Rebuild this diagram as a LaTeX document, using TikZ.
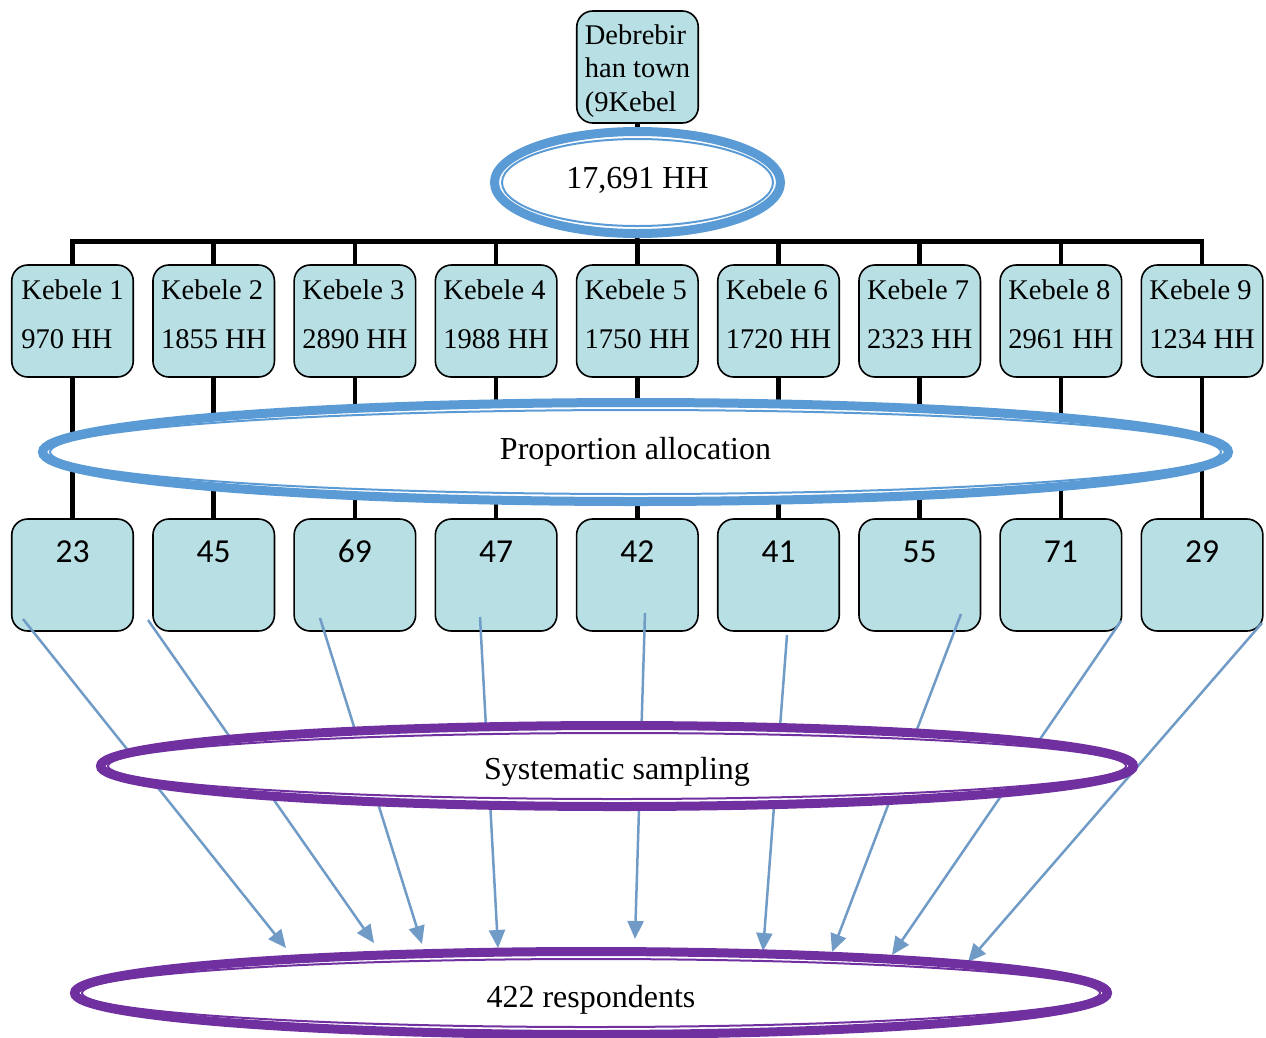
\documentclass[tikz,border=0pt]{standalone}
\usepackage{fontspec}
\setmainfont{Liberation Serif}
\newfontfamily\numfont{Carlito}
\usetikzlibrary{arrows.meta,shapes.geometric}
\definecolor{boxfill}{HTML}{B8DFE3}
\definecolor{ellblue}{HTML}{5B9BD5}
\definecolor{ellpurple}{HTML}{7030A0}
\definecolor{arrowblue}{HTML}{6F9BC6}
\pgfdeclarelayer{back}
\pgfdeclarelayer{arrowlayer}
\pgfdeclarelayer{front}
\pgfsetlayers{back,main,arrowlayer,front}
\begin{document}
\begin{tikzpicture}[x=1pt,y=-1pt,
  box/.style={draw=black, line width=1.6pt, fill=boxfill, rounded corners=16pt,
    minimum width=121.5pt, minimum height=112pt, inner sep=0pt},
  kebbox/.style={box, align=left, font=\fontsize{28.5}{49}\selectfont},
  topbox/.style={box, align=left, font=\fontsize{28.5}{33.5}\selectfont},
  numbox/.style={box, font=\numfont\fontsize{33.5}{40}\selectfont, text height=22pt, text depth=48pt},
  conn/.style={line width=4.7pt, black},
  bigell/.style={ellipse, draw, line width=9pt, fill=white, inner sep=0pt,
    font=\fontsize{32}{38}\selectfont, text height=30pt},
  thinell/.style={line width=2pt},
  flow/.style={line width=2.5pt, arrowblue, -{Triangle[length=18pt,width=16pt]}},
]
\useasboundingbox (0,0) rectangle (1266,1037);

% top box and total
\node[topbox] (top) at (637.5,67) {\rule{0pt}{28pt}Debrebir\\han town\\(9Kebel};
\node[bigell, draw=ellblue, minimum width=286pt, minimum height=102pt, text depth=19pt]
  (tot) at (637.5,182.5) {17,691 HH};
\draw[ellblue, thinell] (tot.center) ellipse [x radius=135.5, y radius=43.5];

% kebele boxes
\foreach \i/\hh in {1/970,2/1855,3/2890,4/1988,5/1750,6/1720,7/2323,8/2961,9/1234}{
  \pgfmathsetmacro{\xx}{72.5+141.2*(\i-1)}
  \node[kebbox] (k\i) at (\xx,321) {Kebele \i\\\hh{} HH\rule[-14.5pt]{0pt}{14.5pt}};
}
% sample boxes
\foreach \i/\nn in {1/23,2/45,3/69,4/47,5/42,6/41,7/55,8/71,9/29}{
  \pgfmathsetmacro{\xx}{72.5+141.2*(\i-1)}
  \node[numbox] (n\i) at (\xx,575) {\nn};
}

% proportion allocation
\node[bigell, draw=ellblue, minimum width=1186pt, minimum height=99pt, text depth=16pt]
  (prop) at (635.5,452) {Proportion allocation};
\draw[ellblue, thinell] (prop.center) ellipse [x radius=585.5, y radius=42];

% black connectors
\coordinate (bar) at (637.3,241.5);
\begin{pgfonlayer}{back}
  \draw[conn] (top.south) -- (bar);
  \foreach \i in {1,...,9}{
    \draw[conn] (k\i.north) |- (bar);
    \draw[conn] (k\i.south) -- (n\i.north);
  }
\end{pgfonlayer}

% lower ellipses
\begin{pgfonlayer}{front}
  \node[bigell, draw=ellpurple, minimum width=1033pt, minimum height=81pt, text depth=4pt]
    (sys) at (617,766) {Systematic sampling};
  \draw[ellpurple, thinell] (sys.center) ellipse [x radius=509, y radius=33];
  \node[bigell, draw=ellpurple, minimum width=1033pt, minimum height=83pt, text depth=2pt]
    (resp) at (591,993) {422 respondents};
  \draw[ellpurple, thinell] (resp.center) ellipse [x radius=509, y radius=34];
\end{pgfonlayer}

% arrows
\coordinate (s1) at (23,619);   \coordinate (t1) at (286,948);
\coordinate (s2) at (148,620);  \coordinate (t2) at (374,943);
\coordinate (s3) at (320,618);  \coordinate (t3) at (422,944);
\coordinate (s4) at (480,617);  \coordinate (t4) at (498,948);
\coordinate (s5) at (645,613);  \coordinate (t5) at (635,939);
\coordinate (s6) at (787,635);  \coordinate (t6) at (763,951);
\coordinate (s7) at (961,614);  \coordinate (t7) at (832,952);
\coordinate (s8) at (1121,621); \coordinate (t8) at (892,955);
\coordinate (s9) at (1262,623); \coordinate (t9) at (968,962);
\begin{pgfonlayer}{arrowlayer}
  \foreach \i in {1,...,9}{
    \draw[flow] (s\i) -- (t\i);
  }
\end{pgfonlayer}
\end{tikzpicture}
\end{document}
